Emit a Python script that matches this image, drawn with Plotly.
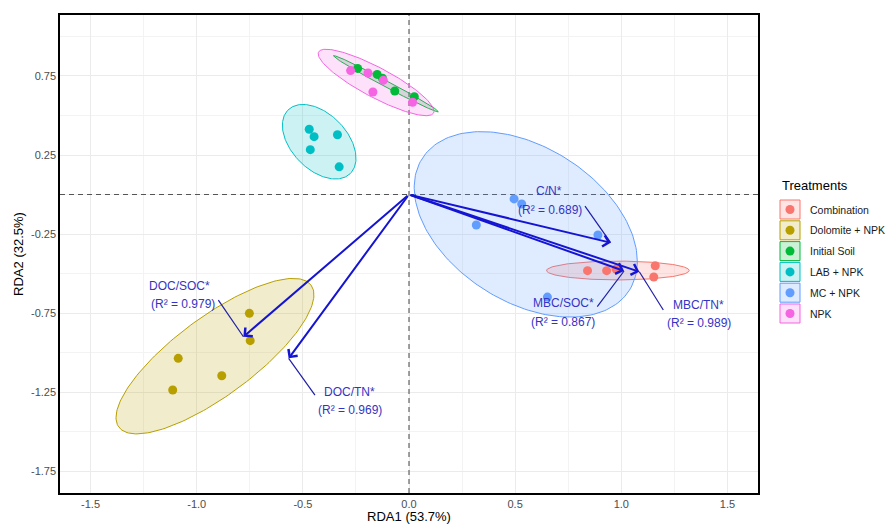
import numpy as np
import plotly.graph_objects as go

# ---------------- data ----------------
treatments = ["Combination", "Dolomite + NPK", "Initial Soil", "LAB + NPK", "MC + NPK", "NPK"]
colors = ["#F8766D", "#B79F00", "#00BA38", "#00BFC4", "#619CFF", "#F564E3"]
fills = ["rgba(248,118,109,0.2)", "rgba(183,159,0,0.2)", "rgba(0,186,56,0.2)",
         "rgba(0,191,196,0.2)", "rgba(97,156,255,0.2)", "rgba(245,100,227,0.2)"]

comb_x = [0.841, 0.931, 0.975, 1.160, 1.153]
comb_y = [-0.482, -0.482, -0.472, -0.451, -0.522]
dolo_x = [-0.752, -0.748, -1.087, -0.882, -1.113]
dolo_y = [-0.752, -0.925, -1.037, -1.147, -1.237]
init_x = [-0.242, -0.125, -0.067, 0.025, -0.150]
init_y = [0.798, 0.736, 0.655, 0.619, 0.760]
lab_x = [-0.470, -0.447, -0.337, -0.465, -0.329]
lab_y = [0.413, 0.366, 0.378, 0.284, 0.175]
mc_x = [0.495, 0.531, 0.317, 0.890, 0.652]
mc_y = [-0.028, -0.060, -0.193, -0.256, -0.649]
npk_x = [-0.275, -0.193, -0.121, -0.170, 0.017]
npk_y = [0.784, 0.769, 0.723, 0.649, 0.584]

pts_x = [comb_x, dolo_x, init_x, lab_x, mc_x, npk_x]
pts_y = [comb_y, dolo_y, init_y, lab_y, mc_y, npk_y]

# 95% ellipses: centre, two conjugate semi-diameters (data units)
ell_cx = [0.984, -0.914, -0.109, -0.423, 0.550, -0.155]
ell_cy = [-0.481, -1.023, 0.701, 0.334, -0.189, 0.709]
ell_ux = [0.336, 0.453, 0.247, 0.146, 0.488, 0.271]
ell_uy = [0.000, 0.449, -0.177, -0.202, -0.417, -0.193]
ell_vx = [0.000, 0.110, -0.0066, -0.0937, -0.195, -0.033]
ell_vy = [0.0595, -0.201, -0.0168, -0.122, -0.413, -0.0835]

# environmental vectors
vec_names = ["C/N*", "MBC/SOC*", "MBC/TN*", "DOC/SOC*", "DOC/TN*"]
vec_r2 = ["(R² = 0.689)", "(R² = 0.867)", "(R² = 0.989)", "(R² = 0.979)", "(R² = 0.969)"]
vec_x = [0.950, 1.013, 1.085, -0.780, -0.567]
vec_y = [-0.305, -0.484, -0.489, -0.900, -1.037]
# repelled label positions and leader starts
lab1_x = [0.661, 0.727, 1.366, -1.079, -0.281]
lab1_y = [0.022, -0.689, -0.699, -0.579, -1.248]
lab2_x = [0.664, 0.724, 1.366, -1.063, -0.278]
lab2_y = [-0.098, -0.805, -0.815, -0.693, -1.364]
seg_x = [0.829, 0.887, 1.198, -0.898, -0.443]
seg_y = [-0.073, -0.710, -0.731, -0.668, -1.269]

x_ticks = [-1.5, -1.0, -0.5, 0.0, 0.5, 1.0, 1.5]
x_ticktext = ["-1.5", "-1.0", "-0.5", "0.0", "0.5", "1.0", "1.5"]
y_ticks = [0.75, 0.25, -0.25, -0.75, -1.25, -1.75]
y_ticktext = ["0.75", "0.25", "-0.25", "-0.75", "-1.25", "-1.75"]
x_minor = [-1.25, -0.75, -0.25, 0.25, 0.75, 1.25]
y_minor = [1.0, 0.5, 0.0, -0.5, -1.0, -1.5]

X_RANGE = [-1.644, 1.644]
Y_RANGE = [-1.889, 1.136]

# ---------------- figure ----------------
W, H = 886, 524
ML, MR, MT, MB = 60, 128, 15, 31
FONT = "Liberation Sans, Arial, sans-serif"
fig = go.Figure()

# zero reference lines (drawn first, under the ellipses)
fig.add_trace(go.Scatter(x=[0, 0], y=Y_RANGE, mode="lines", hoverinfo="skip",
                         line=dict(color="#555555", width=1.1, dash="5px,4px"), showlegend=False))
fig.add_trace(go.Scatter(x=X_RANGE, y=[0, 0], mode="lines", hoverinfo="skip",
                         line=dict(color="#555555", width=1.1, dash="5px,4px"), showlegend=False))

t = np.linspace(0, 2 * np.pi, 200)
for i, name in enumerate(treatments):
    ex = ell_cx[i] + ell_ux[i] * np.cos(t) + ell_vx[i] * np.sin(t)
    ey = ell_cy[i] + ell_uy[i] * np.cos(t) + ell_vy[i] * np.sin(t)
    fig.add_trace(go.Scatter(x=ex, y=ey, mode="lines", fill="toself",
                             fillcolor=fills[i], line=dict(color=colors[i], width=1),
                             hoverinfo="skip", showlegend=False))
for i, name in enumerate(treatments):
    fig.add_trace(go.Scatter(x=pts_x[i], y=pts_y[i], mode="markers", name=name,
                             marker=dict(color=colors[i], size=9), showlegend=False))

# leader segments
for i in range(len(vec_names)):
    fig.add_trace(go.Scatter(x=[seg_x[i], vec_x[i]], y=[seg_y[i], vec_y[i]], mode="lines",
                             line=dict(color="#1E1EA8", width=1.2), hoverinfo="skip",
                             showlegend=False))

annotations = []
ARROW = "#1414D2"
for i in range(len(vec_names)):
    annotations.append(dict(x=vec_x[i], y=vec_y[i], ax=0, ay=0, xref="x", yref="y",
                            axref="x", ayref="y", text="", showarrow=True,
                            arrowhead=4, arrowsize=1.1, arrowwidth=2, arrowcolor=ARROW,
                            standoff=0))
TXT = "#3434C4"
for i in range(len(vec_names)):
    annotations.append(dict(x=lab1_x[i], y=lab1_y[i], xref="x", yref="y", text=vec_names[i],
                            showarrow=False, font=dict(family=FONT, size=12, color=TXT)))
    annotations.append(dict(x=lab2_x[i], y=lab2_y[i], xref="x", yref="y", text=vec_r2[i],
                            showarrow=False, font=dict(family=FONT, size=12, color=TXT)))

# manual legend (ggplot-style keys); positions given in window pixels
pw = W - ML - MR
ph = H - MT - MB
def px2paper(px, py):
    return (px - ML) / pw, (H - MB - py) / ph

shapes = []
tx, ty = px2paper(780, 185)
annotations.append(dict(x=tx, y=ty, xref="paper", yref="paper", text="Treatments",
                        showarrow=False, xanchor="left", yanchor="middle",
                        font=dict(family=FONT, size=13, color="black")))
for i, name in enumerate(treatments):
    cy = 209.5 + 20.8 * i
    x0, y0 = px2paper(780, cy + 9.5)
    x1, y1 = px2paper(800, cy - 9.5)
    shapes.append(dict(type="rect", xref="paper", yref="paper", x0=x0, y0=y0, x1=x1, y1=y1,
                       fillcolor=fills[i], line=dict(color=colors[i], width=1)))
    c0x, c0y = px2paper(790 - 4.5, cy + 4.5)
    c1x, c1y = px2paper(790 + 4.5, cy - 4.5)
    shapes.append(dict(type="circle", xref="paper", yref="paper", x0=c0x, y0=c0y, x1=c1x, y1=c1y,
                       fillcolor=colors[i], line=dict(color=colors[i], width=0)))
    lx, ly = px2paper(808, cy)
    annotations.append(dict(x=lx, y=ly, xref="paper", yref="paper", text=name,
                            showarrow=False, xanchor="left", yanchor="middle",
                            font=dict(family=FONT, size=10.5, color="#1A1A1A")))

axis_common = dict(showline=True, linecolor="black", linewidth=1.5, mirror=True,
                   zeroline=False, showgrid=True, gridcolor="#EBEBEB", gridwidth=1,
                   ticks="", tickfont=dict(family=FONT, size=11, color="#4D4D4D"))
fig.update_layout(
    width=W, height=H, margin=dict(l=ML, r=MR, t=MT, b=MB, autoexpand=False),
    paper_bgcolor="white", plot_bgcolor="white", showlegend=False,
    font=dict(family=FONT),
    xaxis=dict(range=X_RANGE, tickmode="array", tickvals=x_ticks, ticktext=x_ticktext,
               minor=dict(tickmode="array", tickvals=x_minor, showgrid=True,
                          gridcolor="#F3F3F3", gridwidth=0.6),
               title=dict(text="RDA1 (53.7%)", font=dict(family=FONT, size=13, color="black"),
                          standoff=3),
               automargin=False, **axis_common),
    yaxis=dict(range=Y_RANGE, tickmode="array", tickvals=y_ticks, ticktext=y_ticktext,
               minor=dict(tickmode="array", tickvals=y_minor, showgrid=True,
                          gridcolor="#F3F3F3", gridwidth=0.6),
               title=dict(text="RDA2 (32.5%)", font=dict(family=FONT, size=13, color="black"),
                          standoff=4),
               automargin=False, **axis_common),
    shapes=shapes, annotations=annotations,
)

# remove the default page margin so the 886x524 figure fills the window exactly
fig.write_html("out.html", config={"displayModeBar": False}, post_script=(
    "document.body.style.margin='0';"
    "document.body.style.overflow='hidden';"
    "document.documentElement.style.overflow='hidden';"))
